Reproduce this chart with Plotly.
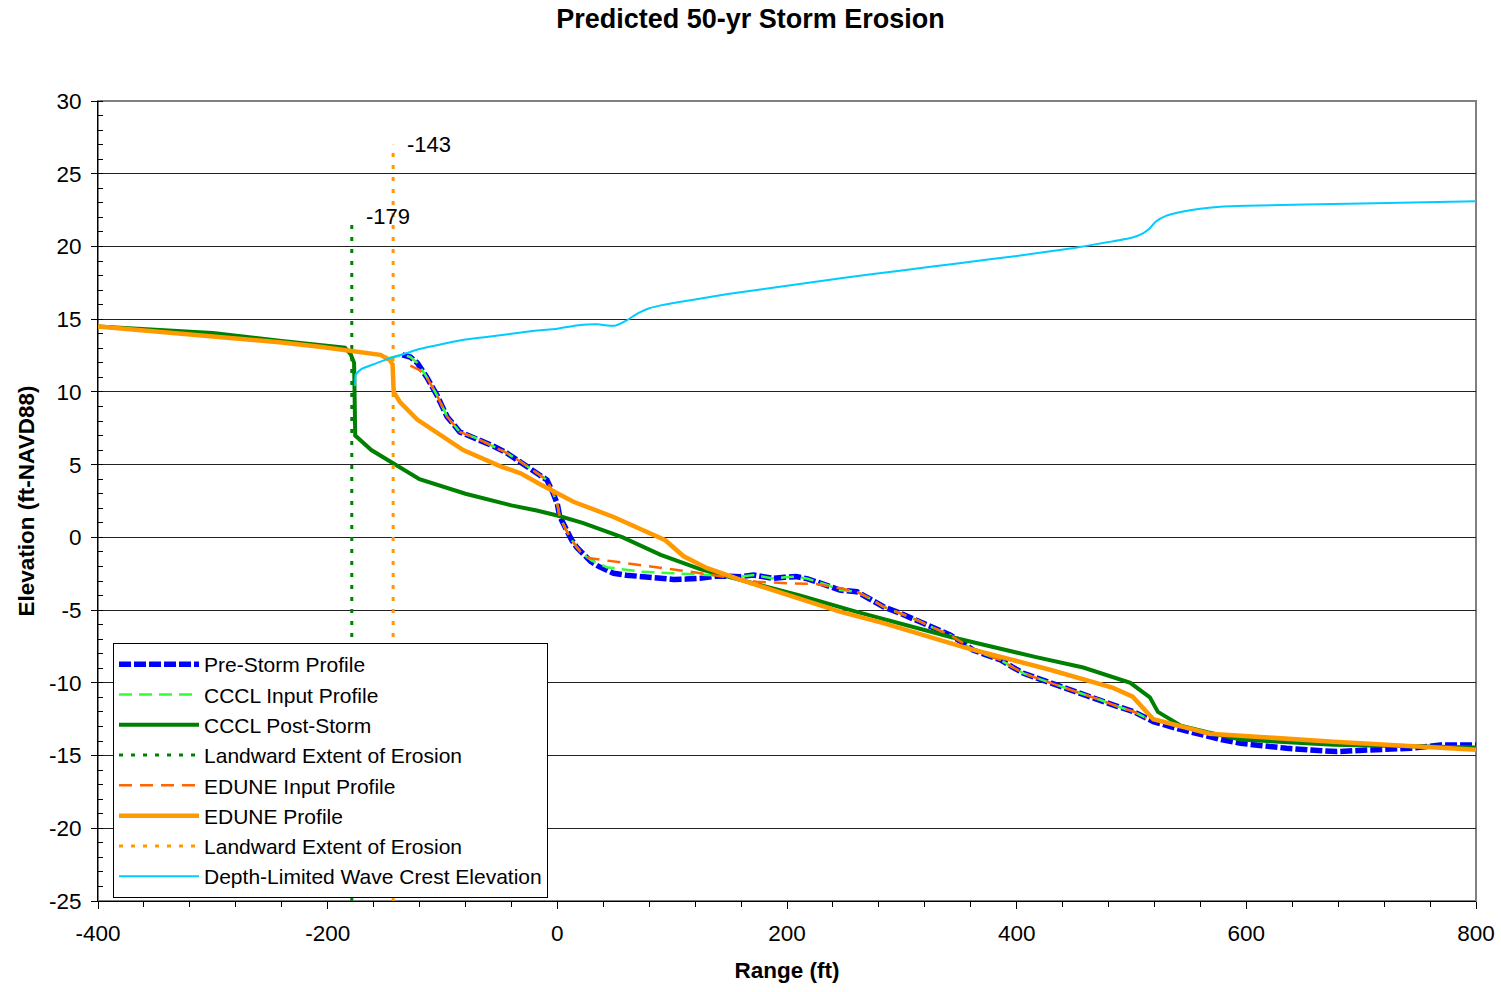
import plotly.graph_objects as go

# ---------------- data ----------------
pre_x = [-135, -128, -122, -114, -105, -96, -85, -70, -55, -44, -32, -24, -15, -9, -4, 0, 2, 7, 12.5, 17, 22.6, 29, 36, 42, 49,
         60, 72, 85, 101, 112, 124, 139, 150, 159, 171, 180, 188, 198, 208, 218, 226, 236, 246, 261, 272, 284, 298, 313,
         327, 342, 352, 362, 374, 386, 396, 406, 422, 438, 455, 473, 487, 502, 519, 540, 560, 578, 595, 615, 635, 655,
         679, 705, 725, 743, 769, 800]
pre_y = [12.55, 12.4, 12.0, 11.05, 9.8, 8.3, 7.25, 6.8, 6.25, 5.8, 5.2, 4.75, 4.3, 3.94, 3.1, 2.3, 1.45, 0.6, -0.18, -0.7,
         -1.2, -1.65, -2.0, -2.25, -2.47, -2.6, -2.7, -2.8, -2.89, -2.87, -2.82, -2.66, -2.68, -2.7, -2.59, -2.7, -2.82,
         -2.75, -2.7, -2.85, -3.05, -3.3, -3.62, -3.74, -4.2, -4.77, -5.2, -5.68, -6.2, -6.71, -7.2, -7.74, -8.1, -8.43,
         -8.9, -9.35, -9.8, -10.26, -10.7, -11.18, -11.6, -11.99, -12.67, -13.15, -13.59, -13.9, -14.16, -14.35, -14.5,
         -14.62, -14.73, -14.62, -14.6, -14.5, -14.28, -14.28]

cccl_in_x = [-148, -135, -128, -122, -114, -105, -96, -85, -70, -55, -44, -32, -24, -15, -9, -4, 0, 2, 7, 12.5, 17, 23, 30,
             43, 72, 101, 130, 160, 171, 180, 188, 198, 208, 218, 226, 236, 246, 261, 272, 284, 298, 313, 327, 342, 352,
             362, 374, 386, 396, 406, 422, 438, 455, 473, 487, 502, 515]
cccl_in_y = [12.3, 12.55, 12.4, 12.0, 11.05, 9.8, 8.3, 7.25, 6.8, 6.25, 5.8, 5.2, 4.75, 4.3, 3.94, 3.1, 2.3, 1.45, 0.6,
             -0.18, -0.7, -1.2, -1.6, -2.05, -2.35, -2.47, -2.59, -2.7, -2.59, -2.7, -2.82, -2.75, -2.7, -2.85, -3.05,
             -3.3, -3.62, -3.74, -4.2, -4.77, -5.2, -5.68, -6.2, -6.71, -7.2, -7.74, -8.1, -8.43, -8.9, -9.35, -9.8,
             -10.26, -10.7, -11.18, -11.6, -11.99, -12.5]

cccl_post_x = [-400, -300, -240, -185, -180, -177, -176, -162, -143, -120, -80, -40, -18, 0, 22, 57, 90, 125, 168, 211,
               260, 340, 415, 458, 499, 516, 523, 543, 566, 595, 676, 800]
cccl_post_y = [14.5, 14.05, 13.5, 13.05, 12.6, 12.0, 7.0, 6.0, 5.1, 4.0, 3.0, 2.2, 1.85, 1.5, 1.0, 0.0, -1.2, -2.2, -3.1,
               -4.0, -5.1, -6.8, -8.2, -8.95, -10.0, -11.0, -12.0, -12.95, -13.4, -13.9, -14.25, -14.45]

cccl_land_x = [-179, -179]
cccl_land_y = [-25, 21.8]
cccl_land_label = "-179"

edune_in_x = [-128, -120, -114, -105, -96, -85, -70, -55, -44, -32, -24, -15, -9, -4, 0, 2, 7, 12.5, 17, 22, 28.5, 57.5,
              86.5, 115.4, 144.5, 173.5, 202.6, 225.8, 246, 261, 272, 284, 298, 313, 327, 342, 352, 362, 374, 386, 396,
              406, 422, 438, 455, 473, 487, 502, 513]
edune_in_y = [11.8, 11.5, 11.05, 9.8, 8.3, 7.25, 6.8, 6.25, 5.8, 5.2, 4.75, 4.3, 3.94, 3.1, 2.3, 1.45, 0.6, -0.18, -0.7,
              -1.2, -1.44, -1.73, -2.06, -2.36, -2.7, -3.05, -3.16, -3.2, -3.5, -3.74, -4.2, -4.77, -5.2, -5.68, -6.2,
              -6.71, -7.2, -7.74, -8.1, -8.43, -8.9, -9.35, -9.8, -10.26, -10.7, -11.18, -11.6, -11.99, -12.44]

edune_x = [-400, -300, -240, -207, -154, -146, -143.5, -142.5, -137, -122, -100, -82, -50, -32, -15, 0, 14, 49, 89, 94,
           110, 130, 159, 203, 246, 284, 356, 429, 484, 501, 519, 568, 676, 800]
edune_y = [14.5, 13.85, 13.4, 13.1, 12.55, 12.2, 11.9, 10.0, 9.3, 8.1, 6.9, 6.0, 4.9, 4.4, 3.65, 3.05, 2.45, 1.4, 0.05,
           -0.2, -1.3, -2.1, -2.9, -4.05, -5.1, -5.9, -7.6, -9.1, -10.35, -10.95, -12.5, -13.5, -14.05, -14.6]

edune_land_x = [-143, -143]
edune_land_y = [-25, 27.0]
edune_land_label = "-143"

wave_x = [-176, -175.5, -170, -160, -150, -140, -130, -120, -100, -80, -60, -40, -20, 0, 20, 35, 50, 60, 70, 80, 90, 100,
          120, 150, 200, 250, 300, 350, 400, 450, 480, 500, 510, 516, 521, 530, 545, 560, 580, 600, 700, 800]
wave_y = [10.4, 11.2, 11.6, 11.9, 12.2, 12.45, 12.7, 12.95, 13.3, 13.6, 13.8, 14.0, 14.2, 14.35, 14.6, 14.65, 14.55, 14.9,
          15.4, 15.75, 15.95, 16.1, 16.35, 16.75, 17.3, 17.85, 18.35, 18.85, 19.35, 19.9, 20.3, 20.6, 20.9, 21.25, 21.7,
          22.1, 22.4, 22.6, 22.75, 22.8, 22.95, 23.1]

x_tickvals = [-400, -200, 0, 200, 400, 600, 800]
x_ticktext = ["-400", "-200", "0", "200", "400", "600", "800"]
y_tickvals = [-25, -20, -15, -10, -5, 0, 5, 10, 15, 20, 25, 30]
y_ticktext = ["-25", "-20", "-15", "-10", "-5", "0", "5", "10", "15", "20", "25", "30"]

FONT = "Liberation Sans, Arial, sans-serif"

fig = go.Figure()
fig.add_trace(go.Scatter(x=pre_x, y=pre_y, mode="lines", name="Pre-Storm Profile",
                         line=dict(color="#0000FF", width=5.5, dash="12px,3px")))
fig.add_trace(go.Scatter(x=cccl_in_x, y=cccl_in_y, mode="lines", name="CCCL Input Profile",
                         line=dict(color="#33FF33", width=2.5, dash="13px,7px")))
fig.add_trace(go.Scatter(x=cccl_post_x, y=cccl_post_y, mode="lines", name="CCCL Post-Storm",
                         line=dict(color="#008000", width=4)))
fig.add_trace(go.Scatter(x=cccl_land_x, y=cccl_land_y, mode="lines", name="Landward Extent of Erosion",
                         line=dict(color="#008000", width=3, dash="4px,8px")))
fig.add_trace(go.Scatter(x=edune_in_x, y=edune_in_y, mode="lines", name="EDUNE Input Profile",
                         line=dict(color="#FF6600", width=2.5, dash="13px,8px")))
fig.add_trace(go.Scatter(x=edune_x, y=edune_y, mode="lines", name="EDUNE Profile",
                         line=dict(color="#FF9900", width=4.5)))
fig.add_trace(go.Scatter(x=edune_land_x, y=edune_land_y, mode="lines", name="Landward Extent of Erosion",
                         line=dict(color="#FF9900", width=3, dash="4px,8px")))
fig.add_trace(go.Scatter(x=wave_x, y=wave_y, mode="lines", name="Depth-Limited Wave Crest Elevation",
                         line=dict(color="#00CCFF", width=2, shape="spline", smoothing=0.5)))

fig.add_annotation(x=cccl_land_x[1], y=cccl_land_y[1], text=cccl_land_label, showarrow=False,
                   xanchor="left", yanchor="middle", xshift=12, yshift=4,
                   font=dict(family=FONT, size=22, color="black"))
fig.add_annotation(x=edune_land_x[1], y=edune_land_y[1], text=edune_land_label, showarrow=False,
                   xanchor="left", yanchor="middle", xshift=12, yshift=0,
                   font=dict(family=FONT, size=22, color="black"))

# plot-area border (gray)
fig.add_shape(type="rect", xref="paper", yref="paper", x0=0, y0=0, x1=1, y1=1,
              line=dict(color="#808080", width=2), layer="below")

fig.update_layout(
    width=1501, height=992,
    margin=dict(l=98, r=25, t=101, b=91),
    paper_bgcolor="white", plot_bgcolor="white",
    font=dict(family=FONT, size=21, color="black"),
    title=dict(text="<b>Predicted 50-yr Storm Erosion</b>", x=0.5, xanchor="center", y=0.981, yanchor="middle",
               font=dict(family=FONT, size=27, color="black")),
    showlegend=True,
    legend=dict(x=0.0109, y=0.3225, xanchor="left", yanchor="top", bgcolor="white",
                bordercolor="black", borderwidth=1, font=dict(family=FONT, size=21, color="black"),
                itemwidth=80, tracegroupgap=0),
)

fig.update_xaxes(range=[-400, 800], tickmode="array", tickvals=x_tickvals, ticktext=x_ticktext,
                 automargin=False, showgrid=False, zeroline=False,
                 showline=True, linecolor="black", linewidth=1,
                 ticks="outside", ticklen=7, tickcolor="black", ticklabelstandoff=5,
                 minor=dict(tickmode="linear", dtick=40, tick0=0, ticks="outside", ticklen=5, tickcolor="black",
                            showgrid=False),
                 tickfont=dict(family=FONT, size=22.5, color="black"),
                 title=dict(text="<b>Range (ft)</b>", font=dict(family=FONT, size=22.5, color="black"), standoff=17))
fig.update_yaxes(range=[-25, 30], tickmode="array", tickvals=y_tickvals, ticktext=y_ticktext,
                 automargin=False, showgrid=True, gridcolor="#222222", gridwidth=1, zeroline=False,
                 showline=True, linecolor="black", linewidth=1,
                 ticks="outside", ticklen=6, tickcolor="black", ticklabelstandoff=5,
                 minor=dict(tickmode="linear", dtick=1, tick0=0, ticks="inside", ticklen=5, tickcolor="black",
                            showgrid=False),
                 tickfont=dict(family=FONT, size=22.5, color="black"),
                 title=dict(text="<b>Elevation (ft-NAVD88)</b>", font=dict(family=FONT, size=22.5, color="black"),
                            standoff=8))

fig.write_html("out.html")
